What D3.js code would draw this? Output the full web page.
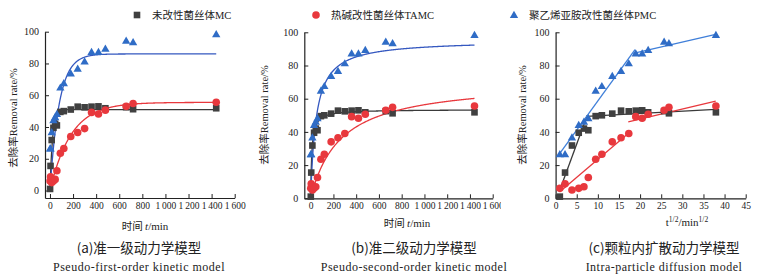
<!DOCTYPE html>
<html>
<head>
<meta charset="utf-8">
<script src="https://cdn.jsdelivr.net/npm/d3@7"></script>
<style>
  body { margin: 0; background: #fff; }
  svg { display: block; }
  .tick text { font-family: "Liberation Serif", serif; font-size: 10px; fill: #222; }
  .xax .tick text { font-size: 9.5px; }
</style>
</head>
<body>
<div id="chart"></div>
<script>
// sampling times (min) and removal rates (%)
const times = [1, 5, 15, 30, 45, 60, 90, 120, 180, 240, 300, 360, 420, 480, 660, 720, 1440];
const mcRate = [1, 15.5, 31.8, 39.5, 42, 41, 49.5, 50, 51, 52.8, 52.4, 52.8, 53, 51.8, 52.5, 51.2, 51.8];
const tamcRate = [6, 8.7, 5, 6, 7, 12.5, 23.5, 26.5, 34, 36.5, 39, 49.2, 48.2, 50.6, 53, 54.8, 55.6];
const pmcRate = [26.5, 26.5, 36.7, 44.2, 46.1, 48.2, 64.8, 67.6, 73.7, 76.7, 81.3, 87.3, 87.3, 89.3, 94.3, 93.4, 98.4];

const seriesNames = ["未改性菌丝体MC", "热碱改性菌丝体TAMC", "聚乙烯亚胺改性菌丝体PMC"];

// fitted model parameters (MC, TAMC, PMC)
const pfoQe = [51, 55.5, 86];
const pfoK = [0.045, 0.0055, 0.0125];
const psoQe = [53.5, 71.1, 95.35];
const psoK = [0.00185, 0.0000538, 0.00022];
// intra-particle diffusion: two linear stages, [x0, y0, x1, y1] in t^1/2 and %
const ipdMC = [[1, 5, 7.5, 50], [7.3, 49.3, 37.9, 53.6]];
const ipdTAMC = [[1, 4, 17.6, 40], [17.2, 46, 37.9, 58.6]];
const ipdPMC = [[1, 27, 18.8, 89.5], [18.4, 87.3, 37.9, 98.8]];

const timeTicks = [0, 200, 400, 600, 800, 1000, 1200, 1400, 1600];
const sqrtTicks = [0, 5, 10, 15, 20, 25, 30, 35, 40, 45];
const rateTicks = [0, 20, 40, 60, 80, 100];

const captionsCn = ["(a)准一级动力学模型", "(b)准二级动力学模型", "(c)颗粒内扩散动力学模型"];
const captionsEn = ["Pseudo-first-order kinetic model", "Pseudo-second-order kinetic model", "Intra-particle diffusion model"];

const colors = ["#404040", "#e8383d", "#2f6cc6"];
const lineColors = ["#3a3a3a", "#e8383d", "#3558c0"];

const width = 759, height = 276;
const svg = d3.select("#chart").append("svg")
    .attr("width", width).attr("height", height)
    .attr("viewBox", [0, 0, width, height]);

const fmt = d => d >= 1000 ? String(Math.floor(d / 1000)) + "\u2009" + String(d % 1000).padStart(3, "0") : String(d);

function marker(g, type, x, y, color) {
  if (type === 0) {
    g.append("rect").attr("x", x - 3.3).attr("y", y - 3.3).attr("width", 6.6).attr("height", 6.6).attr("fill", color);
  } else if (type === 1) {
    g.append("circle").attr("cx", x).attr("cy", y).attr("r", 3.8).attr("fill", color);
  } else {
    g.append("path").attr("d", d3.symbol(d3.symbolTriangle, 30)()).attr("transform", `translate(${x},${y + 0.6})`).attr("fill", color);
  }
}

// panel layout
const panels = [
  { x: d3.scaleLinear().domain([-43, 1600]).range([45, 234.7]),
    y: d3.scaleLinear().domain([-4.7, 100]).range([198, 31.7]),
    ticks: timeTicks, ylab: [13, 118], xlab: [145, 230], cap: 139 },
  { x: d3.scaleLinear().domain([-56, 1600]).range([304.3, 492.7]),
    y: d3.scaleLinear().domain([0, 100]).range([198.3, 32.3]),
    ticks: timeTicks, ylab: [264, 115], xlab: [407, 227], cap: 414, clip: 500 },
  { x: d3.scaleLinear().domain([0, 45]).range([555.6, 745.7]),
    y: d3.scaleLinear().domain([0, 100]).range([198.3, 32.3]),
    ticks: sqrtTicks, ylab: [522, 115], xlab: [687, 226], cap: 664 }
];

svg.append("clipPath").attr("id", "clipB")
  .append("rect").attr("x", 250).attr("y", 0).attr("width", 251).attr("height", 240);

const rates = [mcRate, tamcRate, pmcRate];

panels.forEach((p, pi) => {
  const g = svg.append("g");
  if (p.clip) g.attr("clip-path", "url(#clipB)");
  const y0 = p.y.range()[0];
  const x0 = p.x.range()[0];

  // axes
  g.append("g").attr("class", "xax").attr("transform", `translate(0,${y0})`)
    .call(d3.axisBottom(p.x).tickValues(p.ticks).tickFormat(fmt).tickSizeInner(-4).tickSizeOuter(0).tickPadding(4))
    .call(a => a.select(".domain").attr("stroke", "#222").attr("stroke-width", 1.2))
    .call(a => a.selectAll(".tick line").attr("stroke", "#222"));
  g.append("g").attr("transform", `translate(${x0},0)`)
    .call(d3.axisLeft(p.y).tickValues(rateTicks).tickSizeInner(-4).tickSizeOuter(0).tickPadding(6))
    .call(a => a.select(".domain").attr("stroke", "#222").attr("stroke-width", 1.2))
    .call(a => a.selectAll(".tick line").attr("stroke", "#222"));

  // fitted lines
  const line = d3.line().x(d => p.x(d[0])).y(d => p.y(d[1]));
  const sample = d3.range(0, 1441, 4);
  for (let s = 0; s < 3; s++) {
    let segs;
    if (pi === 0) {
      segs = [sample.map(t => [t, pfoQe[s] * (1 - Math.exp(-pfoK[s] * t))])];
    } else if (pi === 1) {
      segs = [sample.map(t => [t, psoK[s] * psoQe[s] * psoQe[s] * t / (1 + psoK[s] * psoQe[s] * t)])];
    } else {
      const ipd = [ipdMC, ipdTAMC, ipdPMC][s];
      segs = ipd.map(d => [[d[0], d[1]], [d[2], d[3]]]);
    }
    segs.forEach(seg => g.append("path").attr("d", line(seg))
      .attr("fill", "none").attr("stroke", pi === 2 && s === 2 ? "#3f7fd9" : lineColors[s]).attr("stroke-width", 1.3));
  }

  // data points
  for (let s = 0; s < 3; s++) {
    times.forEach((t, i) => {
      const xv = pi === 2 ? Math.sqrt(t) : t;
      marker(g, s, p.x(xv), p.y(rates[s][i]), colors[s]);
    });
  }

  // y label
  const yl = g.append("text").attr("transform", `translate(${p.ylab[0]},${p.ylab[1]}) rotate(-90)`)
    .attr("text-anchor", "middle").attr("dy", "0.35em")
    .attr("font-size", 10.5).attr("fill", "#222");
  yl.append("tspan").attr("font-family", "Noto Sans CJK SC").text("去除率");
  yl.append("tspan").attr("font-family", "Liberation Serif").text("Removal rate/%");

  // x label
  const xl = g.append("text").attr("x", p.xlab[0]).attr("y", p.xlab[1])
    .attr("text-anchor", "middle").attr("font-size", 11).attr("fill", "#222")
    .attr("font-family", "Liberation Serif");
  if (pi < 2) {
    xl.append("tspan").attr("font-family", "Noto Sans CJK SC").attr("font-size", 10.5).text("时间 ");
    xl.append("tspan").attr("font-style", "italic").text("t");
    xl.append("tspan").text("/min");
  } else {
    xl.append("tspan").text("t");
    xl.append("tspan").attr("font-size", 7.5).attr("dy", -4).text("1/2");
    xl.append("tspan").attr("dy", 4).text("/min");
    xl.append("tspan").attr("font-size", 7.5).attr("dy", -4).text("1/2");
  }

  // captions
  svg.append("text").attr("x", p.cap).attr("y", 253).attr("text-anchor", "middle")
    .attr("font-family", "Noto Sans CJK SC").attr("font-size", 13.5).attr("fill", "#222")
    .text(captionsCn[pi]);
  svg.append("text").attr("x", p.cap).attr("y", 271).attr("text-anchor", "middle")
    .attr("font-family", "Liberation Serif").attr("font-size", 12).attr("fill", "#222")
    .attr("letter-spacing", 0.5)
    .text(captionsEn[pi]);
});

// legend
const legendX = [137, 316, 514];
seriesNames.forEach((name, s) => {
  const lg = svg.append("g");
  marker(lg, s, legendX[s], 15, colors[s]);
  const t = lg.append("text").attr("x", legendX[s] + 15).attr("y", 19)
    .attr("font-size", 10.5).attr("fill", "#222");
  const m = name.match(/^(.*?)([A-Z]+)$/);
  t.append("tspan").attr("font-family", "Noto Sans CJK SC").text(m[1]);
  t.append("tspan").attr("font-family", "Liberation Serif").text(m[2]);
});
</script>
</body>
</html>
